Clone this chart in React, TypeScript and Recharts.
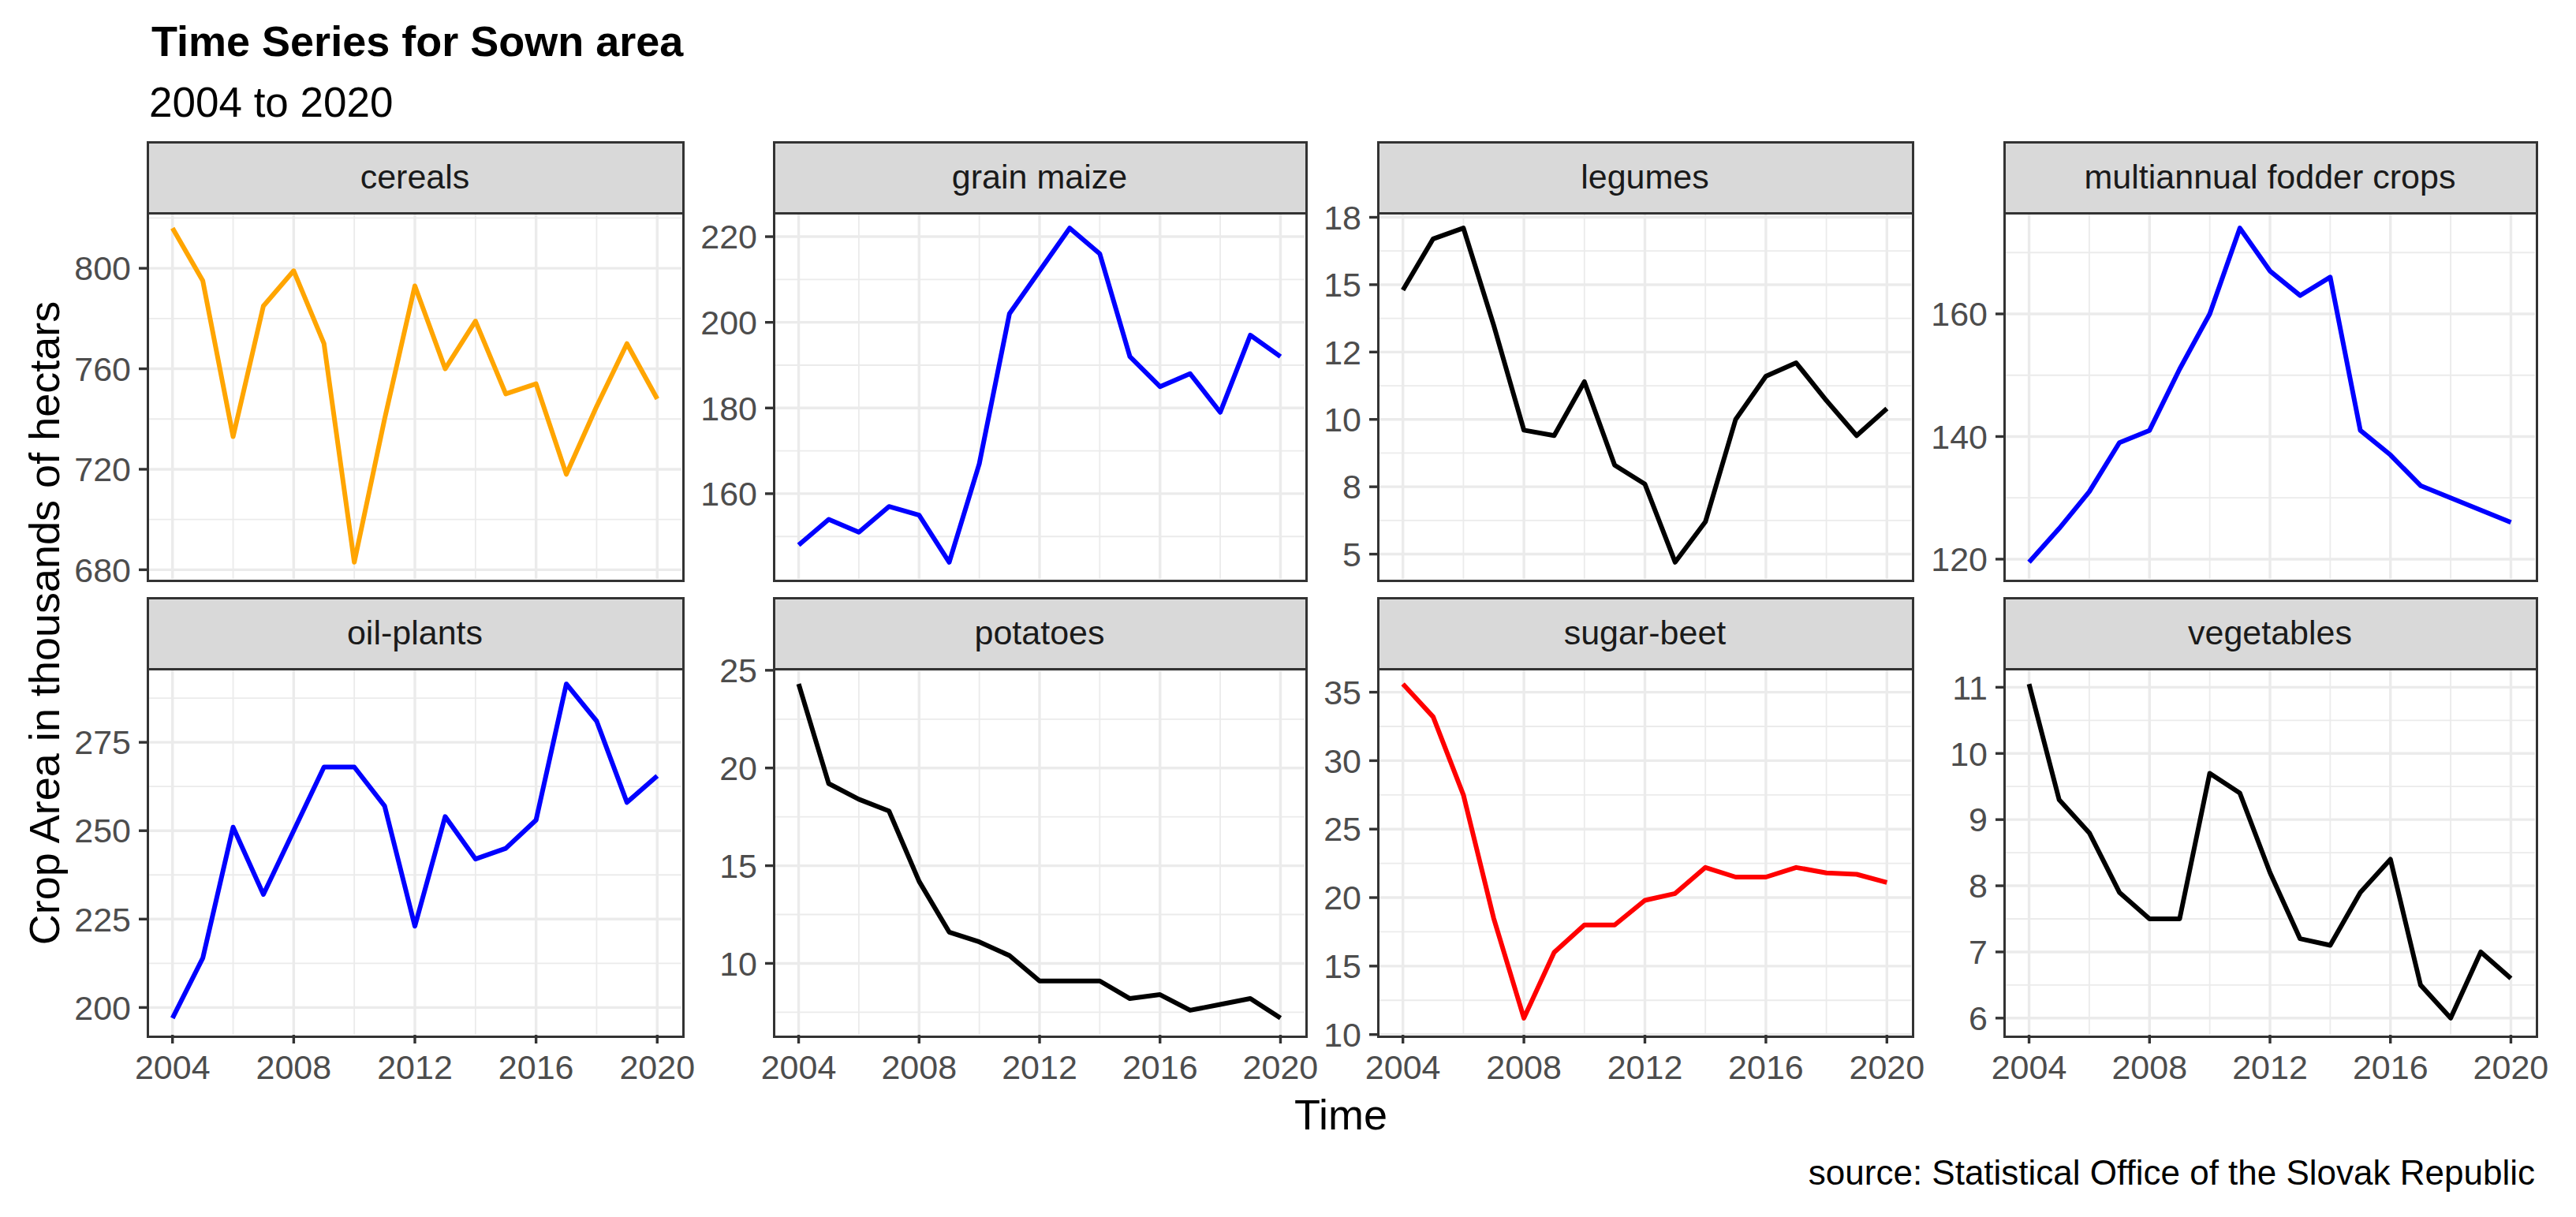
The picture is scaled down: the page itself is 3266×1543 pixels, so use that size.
import React from "react";
import { LineChart, Line, XAxis, YAxis, CartesianGrid } from "recharts";

const years = [2004, 2005, 2006, 2007, 2008, 2009, 2010, 2011, 2012, 2013, 2014, 2015, 2016, 2017, 2018, 2019, 2020];
const xTicks = [2004, 2008, 2012, 2016, 2020];
const xTickLabels = ["2004", "2008", "2012", "2016", "2020"];

const cereals = [816, 795, 733, 785, 799, 770, 683, 740, 793, 760, 779, 750, 754, 718, 745, 770, 748];
const grainMaize = [148, 154, 151, 157, 155, 144, 167, 202, 212, 222, 216, 192, 185, 188, 179, 197, 192];
const legumes = [14.8, 16.7, 17.1, 13.5, 9.6, 9.4, 11.4, 8.3, 7.6, 4.7, 6.2, 10.0, 11.6, 12.1, 10.7, 9.4, 10.4];
const fodder = [119.5, 125, 131, 139, 141, 151, 160, 174, 167, 163, 166, 141, 137, 132, 130, 128, 126];
const oilPlants = [197, 214, 251, 232, 250, 268, 268, 257, 223, 254, 242, 245, 253, 291.5, 281, 258, 265.5];
const potatoes = [24.3, 19.2, 18.4, 17.8, 14.2, 11.6, 11.1, 10.4, 9.1, 9.1, 9.1, 8.2, 8.4, 7.6, 7.9, 8.2, 7.2];
const sugarBeet = [35.6, 33.2, 27.5, 18.5, 11.2, 16.0, 18.0, 18.0, 19.8, 20.3, 22.2, 21.5, 21.5, 22.2, 21.8, 21.7, 21.1];
const vegetables = [11.05, 9.3, 8.8, 7.9, 7.5, 7.5, 9.7, 9.4, 8.2, 7.2, 7.1, 7.9, 8.4, 6.5, 6.0, 7.0, 6.6];

const cerealsTicks = [680, 720, 760, 800];
const cerealsLabels = ["680", "720", "760", "800"];
const maizeTicks = [160, 180, 200, 220];
const maizeLabels = ["160", "180", "200", "220"];
const legumesTicks = [5, 7.5, 10, 12.5, 15, 17.5];
const legumesLabels = ["5", "8", "10", "12", "15", "18"];
const fodderTicks = [120, 140, 160];
const fodderLabels = ["120", "140", "160"];
const oilTicks = [200, 225, 250, 275];
const oilLabels = ["200", "225", "250", "275"];
const potatoTicks = [10, 15, 20, 25];
const potatoLabels = ["10", "15", "20", "25"];
const sugarTicks = [10, 15, 20, 25, 30, 35];
const sugarLabels = ["10", "15", "20", "25", "30", "35"];
const vegTicks = [6, 7, 8, 9, 10, 11];
const vegLabels = ["6", "7", "8", "9", "10", "11"];

const panels = [
  { name: "cereals", values: cereals, color: "#FFA500", ticks: cerealsTicks, labels: cerealsLabels },
  { name: "grain maize", values: grainMaize, color: "#0000FF", ticks: maizeTicks, labels: maizeLabels },
  { name: "legumes", values: legumes, color: "#000000", ticks: legumesTicks, labels: legumesLabels },
  { name: "multiannual fodder crops", values: fodder, color: "#0000FF", ticks: fodderTicks, labels: fodderLabels },
  { name: "oil-plants", values: oilPlants, color: "#0000FF", ticks: oilTicks, labels: oilLabels },
  { name: "potatoes", values: potatoes, color: "#000000", ticks: potatoTicks, labels: potatoLabels },
  { name: "sugar-beet", values: sugarBeet, color: "#FF0000", ticks: sugarTicks, labels: sugarLabels },
  { name: "vegetables", values: vegetables, color: "#000000", ticks: vegTicks, labels: vegLabels },
];

const FONT = "'Liberation Sans', Arial, sans-serif";
const colLeft = [188, 982, 1748, 2542];
const colRight = [864, 1654, 2423, 3214];
const stripTop = [181, 759];
const STRIP_H = 87;
const PANEL_H = 466;
const YW = 140;
const XH = 90;
const M = 40;
const BORDER = "#333333";
const GRID = "#EBEBEB";

function expandDomain(vals: number[]): [number, number] {
  const mn = Math.min(...vals);
  const mx = Math.max(...vals);
  const r = mx - mn;
  return [mn - 0.05 * r, mx + 0.05 * r];
}

function minorOf(ticks: number[], dom: [number, number]): number[] {
  const step = ticks[1] - ticks[0];
  const out: number[] = [];
  const ext = [ticks[0] - step, ...ticks, ticks[ticks.length - 1] + step];
  for (let i = 0; i < ext.length - 1; i++) {
    const m = (ext[i] + ext[i + 1]) / 2;
    if (m >= dom[0] && m <= dom[1]) out.push(m);
  }
  return out;
}

const xDomain: [number, number] = expandDomain(years);
const xMinor = minorOf(xTicks, xDomain);

function Panel({ idx }: { idx: number }) {
  const p = panels[idx];
  const row = idx < 4 ? 0 : 1;
  const col = idx % 4;
  const pl = colLeft[col];
  const pw = colRight[col] - colLeft[col];
  const st = stripTop[row];
  const pt = st + STRIP_H;
  const bottom = row === 1;
  const data = years.map((y, i) => ({ year: y, v: p.values[i] }));
  const yDom = expandDomain(p.values);
  const yMinor = minorOf(p.ticks, yDom);
  const chartW = pw + YW + M;
  const chartH = M + PANEL_H + (bottom ? XH : M);
  const labelOf = (v: number) => {
    const k = p.ticks.indexOf(v);
    return k >= 0 ? p.labels[k] : String(v);
  };
  const xLabelOf = (v: number) => {
    const k = xTicks.indexOf(v);
    return k >= 0 ? xTickLabels[k] : String(v);
  };
  return (
    <>
      <div style={{ position: "absolute", left: pl - YW, top: pt - M, width: chartW, height: chartH }}>
        <LineChart
          width={chartW}
          height={chartH}
          data={data}
          margin={{ top: M, right: M, bottom: bottom ? 0 : M, left: 0 }}
        >
          <CartesianGrid stroke={GRID} strokeWidth={1.8} horizontalValues={yMinor} verticalValues={xMinor} />
          <CartesianGrid stroke={GRID} strokeWidth={3.4} horizontalValues={p.ticks} verticalValues={xTicks} />
          <XAxis
            dataKey="year"
            type="number"
            domain={xDomain}
            ticks={xTicks}
            hide={!bottom}
            height={XH}
            axisLine={false}
            tickSize={11}
            tickMargin={14}
            tickLine={{ stroke: BORDER, strokeWidth: 3.4 }}
            tick={{ fontSize: 43, fill: "#4D4D4D", fontFamily: FONT }}
            tickFormatter={xLabelOf}
            interval={0}
            allowDataOverflow
          />
          <YAxis
            type="number"
            domain={yDom}
            ticks={p.ticks}
            width={YW}
            axisLine={false}
            tickSize={12}
            tickMargin={10}
            tickLine={{ stroke: BORDER, strokeWidth: 3.4 }}
            tick={{ fontSize: 43, fill: "#4D4D4D", fontFamily: FONT }}
            tickFormatter={labelOf}
            interval={0}
            allowDataOverflow
          />
          <Line
            type="linear"
            dataKey="v"
            stroke={p.color}
            strokeWidth={6}
            strokeLinejoin="round"
            dot={false}
            activeDot={false}
            isAnimationActive={false}
          />
        </LineChart>
      </div>
      <div
        style={{
          position: "absolute",
          left: pl - 1.7,
          top: pt - 1.7,
          width: pw,
          height: PANEL_H,
          border: `3.4px solid ${BORDER}`,
          pointerEvents: "none",
        }}
      />
      <div
        style={{
          position: "absolute",
          left: pl - 1.7,
          top: st - 1.7,
          width: pw,
          height: STRIP_H,
          border: `3.4px solid ${BORDER}`,
          background: "#D9D9D9",
          boxSizing: "content-box",
        }}
      />
      <div
        style={{
          position: "absolute",
          left: pl,
          top: st,
          width: pw,
          height: STRIP_H,
          display: "flex",
          alignItems: "center",
          justifyContent: "center",
          fontFamily: FONT,
          fontSize: 43,
          color: "#1A1A1A",
          lineHeight: 1,
        }}
      >
        {p.name}
      </div>
    </>
  );
}

export default function App() {
  return (
    <div style={{ position: "absolute", left: 0, top: 0, width: 3266, height: 1543, background: "#FFFFFF", fontFamily: FONT }}>
      {panels.map((_, i) => (
        <Panel key={i} idx={i} />
      ))}
      <svg width={3266} height={1543} style={{ position: "absolute", left: 0, top: 0, pointerEvents: "none" }}>
        <text x={192} y={71} fontFamily={FONT} fontWeight="bold" fontSize={54} fill="#000000">
          Time Series for Sown area
        </text>
        <text x={189} y={148} fontFamily={FONT} fontSize={53} fill="#000000">
          2004 to 2020
        </text>
        <text x={1700} y={1432} fontFamily={FONT} fontSize={54} fill="#000000" textAnchor="middle">
          Time
        </text>
        <text
          x={75}
          y={790}
          fontFamily={FONT}
          fontSize={54}
          fill="#000000"
          textAnchor="middle"
          transform="rotate(-90 75 790)"
        >
          Crop Area in thousands of hectars
        </text>
        <text x={3214} y={1502} fontFamily={FONT} fontSize={44} fill="#000000" textAnchor="end">
          source: Statistical Office of the Slovak Republic
        </text>
      </svg>
    </div>
  );
}
